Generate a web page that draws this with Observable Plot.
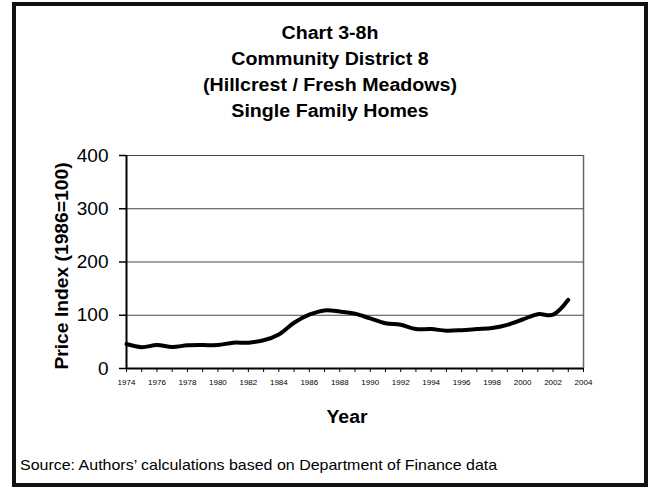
<!DOCTYPE html>
<html>
<head>
<meta charset="utf-8">
<script src="https://cdn.jsdelivr.net/npm/d3@7"></script>
<script src="https://cdn.jsdelivr.net/npm/@observablehq/plot@0.6"></script>
<style>
  html, body { margin: 0; padding: 0; background: #fff; }
  #wrap { position: relative; width: 652px; height: 487px; overflow: hidden; font-family: "Liberation Sans", Arial, sans-serif; }
  #frame { position: absolute; left: 12px; top: 2px; width: 636px; height: 485px; box-sizing: border-box; border: 4px solid #111; }
  #title { position: absolute; left: 12px; width: 636px; top: 20px; text-align: center; font-weight: bold; font-size: 18px; line-height: 26px; color: #000; transform: scaleX(1.09); }
  #ylab { position: absolute; left: 62px; top: 266px; transform: translate(-50%, -50%) rotate(-90deg) scaleX(1.07); white-space: nowrap; font-weight: bold; font-size: 18px; color: #000; }
  #xlab { position: absolute; left: 347px; top: 417px; transform: translate(-50%, -50%) scaleX(1.08); font-weight: bold; font-size: 18px; color: #000; }
  #source { position: absolute; left: 20px; top: 456px; font-size: 15px; color: #000; white-space: nowrap; transform: scaleX(1.065); transform-origin: left center; }
  #chart { position: absolute; left: 0; top: 0; }
</style>
</head>
<body>
<div id="wrap">
  <div id="frame"></div>
  <div id="chart"></div>
  <div id="title">Chart 3-8h<br>Community District 8<br>(Hillcrest / Fresh Meadows)<br>Single Family Homes</div>
  <div id="ylab">Price Index (1986=100)</div>
  <div id="xlab">Year</div>
  <div id="source">Source: Authors’ calculations based on Department of Finance data</div>
</div>
<script>
const years = [1974,1975,1976,1977,1978,1979,1980,1981,1982,1983,1984,1985,1986,1987,1988,1989,1990,1991,1992,1993,1994,1995,1996,1997,1998,1999,2000,2001,2002,2003];
const priceIndex = [46,40,44,40.5,43.5,44,44,48.5,48.5,53,64,86,101,109,107,103,94,85,82,74,74,71,72,74,76,82,92,102,101,129];
const yTicks = [0,100,200,300,400];
const xTicks = d3.range(1974, 2005);

const data = years.map((y, i) => ({year: y, value: priceIndex[i]}));

const chart = Plot.plot({
  width: 652,
  height: 400,
  marginLeft: 126,
  marginRight: 69,
  marginTop: 155,
  marginBottom: 32,
  style: {background: "transparent", fontFamily: "Liberation Sans, Arial, sans-serif", color: "#000"},
  x: {domain: [1974, 2004]},
  y: {domain: [0, 400]},
  marks: [
    Plot.ruleY([100,200,300,400], {stroke: "#444", strokeWidth: 1}),
    Plot.ruleX([2004], {stroke: "#666", strokeWidth: 1.5}),
    Plot.axisY({ticks: yTicks, tickSize: 7, tickPadding: 11, fontSize: 19, label: null, stroke: "#000", strokeWidth: 1.5}),
    Plot.axisX({ticks: xTicks, tickSize: 4, tickPadding: 7, fontSize: 8, label: null, stroke: "#000",
      tickFormat: d => (d % 2 === 0 ? String(d) : "")}),
    Plot.ruleX([1974], {stroke: "#000", strokeWidth: 2}),
    Plot.ruleY([0], {stroke: "#000", strokeWidth: 2}),
    Plot.line(data, {x: "year", y: "value", stroke: "#000", strokeWidth: 4, curve: "catmull-rom"})
  ]
});
document.getElementById("chart").appendChild(chart);
</script>
</body>
</html>
